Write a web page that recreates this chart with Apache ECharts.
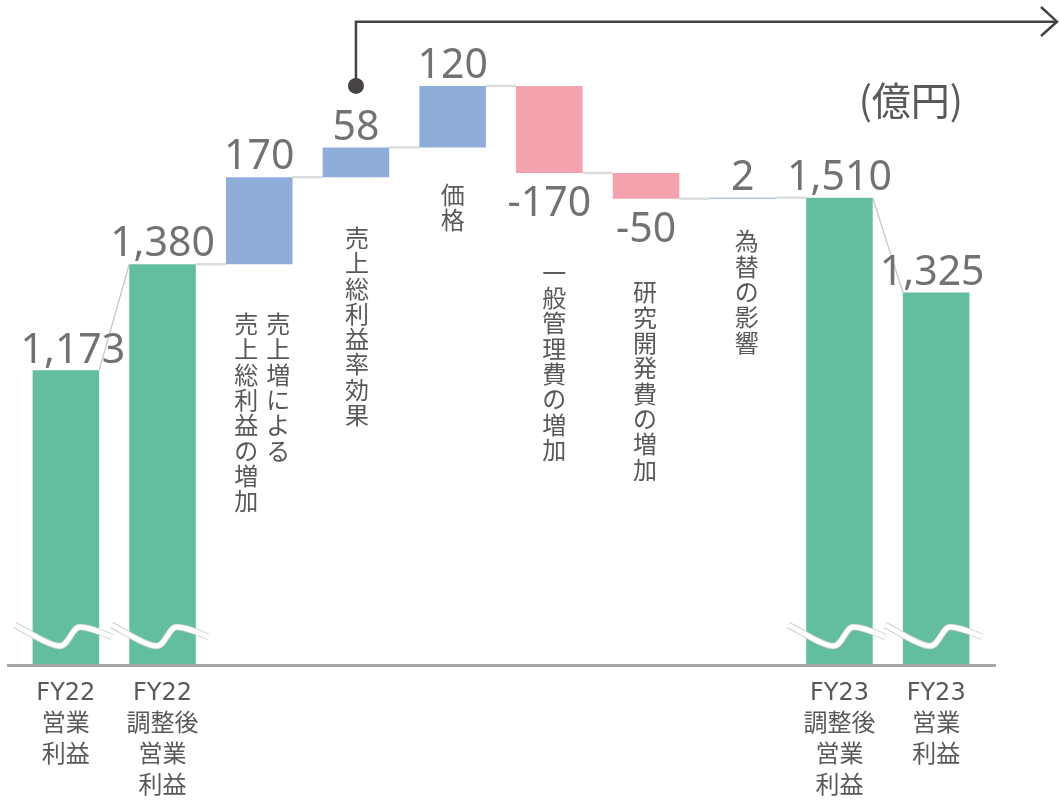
<!DOCTYPE html>
<html><head><meta charset="utf-8">
<script src="https://cdn.jsdelivr.net/npm/echarts@6/dist/echarts.min.js"></script>
<style>html,body{margin:0;padding:0;background:#fff}#c{width:1059px;height:802px}</style>
</head><body><div id="c"></div>
<script>
// ---------- data ----------
const categories = ['FY22営業利益','FY22調整後営業利益','売上増による売上総利益の増加','売上総利益率効果','価格','一般管理費の増加','研究開発費の増加','為替の影響','FY23調整後営業利益','FY23営業利益'];
const axisLabels = ['FY22\n営業\n利益','FY22\n調整後\n営業\n利益','','','','','','','FY23\n調整後\n営業\n利益','FY23\n営業\n利益'];
const kinds = ['total','total','delta','delta','delta','delta','delta','delta','total','total'];
const values = [1173,1380,170,58,120,-170,-50,2,1510,1325];
const notes = [[],[],['売上増による','売上総利益の増加'],['売上総利益率効果'],['価格'],['一般管理費の増加'],['研究開発費の増加'],['為替の影響'],[],[]];
const brokenBars = [0,1,8,9];
const unitLabel = '(億円)';
const axisMin = 600, axisMax = 1800;

// ---------- layout / style (not data) ----------
const BAR_RATIO = 0.688;
const noteLayout = {2:{dy:47,dx:[19,-13]},3:{dy:48,dx:[1]},4:{dy:35,dx:[0]},5:{dy:87,dx:[5]},6:{dy:81,dx:[-1]},7:{dy:30,dx:[4]}};
const labelShiftX = {0: 7, 9: -4};
const annotationIndex = 3;
const colorTotal = '#63BEA0', colorUp = '#8FADDA', colorDown = '#F4A3AE';
const valueColor = '#767171', textColor = '#595959';

// ---------- derived ----------
const n = values.length;
const lows = [], highs = [], starts = [], ends = [];
let run = 0;
for (let i = 0; i < n; i++) {
  if (kinds[i] === 'total') { starts[i] = ends[i] = values[i]; lows[i] = 0; highs[i] = values[i]; run = values[i]; }
  else { const s = run, e = run + values[i]; starts[i] = s; ends[i] = e; lows[i] = Math.min(s, e); highs[i] = Math.max(s, e); run = e; }
}
const baseData = values.map((v, i) => kinds[i] === 'total' ? 0 : lows[i]);
const barData = values.map((v, i) => {
  const isTotal = kinds[i] === 'total';
  const up = isTotal || v >= 0;
  return {
    value: isTotal ? v : Math.abs(v),
    itemStyle: { color: isTotal ? colorTotal : (v >= 0 ? colorUp : colorDown) },
    label: { position: up ? 'top' : 'bottom', distance: up ? -1 : 11, offset: [labelShiftX[i] || 0, 0] }
  };
});
const valueText = values.map((v, i) => kinds[i] === 'total' ? v.toLocaleString('en-US') : String(v));
const connectorData = [];
for (let i = 0; i < n - 1; i++) connectorData.push([i, ends[i], starts[i + 1]]);
const noteData = [];
notes.forEach((cols, i) => { if (cols.length) noteData.push([i, lows[i]]); });

const chart = echarts.init(document.getElementById('c'));
chart.setOption({
  animation: false,
  backgroundColor: '#ffffff',
  grid: { left: 17.5, right: 74.5, top: 49, bottom: 131 },
  xAxis: {
    type: 'category', data: categories,
    axisLine: { show: false }, axisTick: { show: false },
    axisLabel: {
      interval: 0, margin: 14, color: textColor, fontSize: 24, lineHeight: 31,
      fontFamily: '"DejaVu Sans","Noto Sans CJK JP"',
      formatter: (v, idx) => axisLabels[idx]
    }
  },
  yAxis: { type: 'value', min: axisMin, max: axisMax, show: false, splitLine: { show: false } },
  series: [
    {
      type: 'custom', name: 'connectors', z: 1, silent: true, clip: false,
      encode: { x: 0, y: [1, 2] },
      data: connectorData,
      renderItem: (p, api) => {
        const i = api.value(0);
        const bw = api.size([1, 0])[0] * BAR_RATIO;
        const a = api.coord([i, api.value(1)]);
        const b = api.coord([i + 1, api.value(2)]);
        const diag = Math.abs(api.value(1) - api.value(2)) > 0.5;
        return { type: 'line', shape: { x1: a[0] + bw / 2, y1: a[1], x2: b[0] - bw / 2, y2: b[1] },
          style: { stroke: diag ? '#C8C8C8' : '#DCDCDC', lineWidth: diag ? 1.3 : 2.5 } };
      }
    },
    {
      type: 'bar', name: 'base', stack: 'w', barWidth: (BAR_RATIO * 100) + '%', z: 2,
      itemStyle: { color: 'rgba(0,0,0,0)' }, emphasis: { disabled: true }, silent: true,
      data: baseData
    },
    {
      type: 'bar', name: 'value', stack: 'w', barWidth: (BAR_RATIO * 100) + '%', z: 3,
      data: barData,
      label: {
        show: true, color: valueColor, fontSize: 41, fontFamily: '"Noto Sans"',
        formatter: (p) => valueText[p.dataIndex]
      }
    },
    {
      type: 'custom', name: 'breaks', z: 6, silent: true, clip: false,
      encode: { x: 0, y: 1 },
      data: brokenBars.map(i => [i, axisMin]),
      renderItem: (p, api) => {
        const c = api.coord([api.value(0), api.value(1)]);
        const d = 'M-51,-39 C-32,-29 -16,-18 -6,-18 C3,-18 6,-37 14,-37 C24,-37 34,-32 46,-27';
        return { type: 'group', x: c[0], y: c[1], children: [
          { type: 'path', shape: { pathData: d }, style: { fill: 'none', stroke: '#CFCFCF', lineWidth: 6.5, lineCap: 'butt' } },
          { type: 'path', shape: { pathData: d }, style: { fill: 'none', stroke: '#FFFFFF', lineWidth: 4.8, lineCap: 'butt' } }
        ] };
      }
    },
    {
      type: 'custom', name: 'notes', z: 4, silent: true, clip: false,
      encode: { x: 0, y: 1 },
      data: noteData,
      renderItem: (p, api) => {
        const i = api.value(0);
        const c = api.coord([i, api.value(1)]);
        const lay = noteLayout[i];
        return { type: 'group', children: notes[i].map((t, k) => ({
          type: 'text', x: c[0] + lay.dx[k], y: c[1] + lay.dy,
          style: { text: t.split('').join('\n'), fill: textColor, fontSize: 24, lineHeight: 25.3,
            fontFamily: '"Noto Sans CJK JP"', align: 'center', verticalAlign: 'top' }
        })) };
      }
    }
  ]
});

const basePt = chart.convertToPixel({ gridIndex: 0 }, [0, axisMin]);
const peakPt = chart.convertToPixel({ gridIndex: 0 }, [annotationIndex, Math.max(...highs)]);
const dark = '#474344';
chart.setOption({
  graphic: [
    { type: 'line', z: 10, shape: { x1: 7, y1: basePt[1] + 1.5, x2: 996, y2: basePt[1] + 1.5 }, style: { stroke: '#A6A6A6', lineWidth: 3 } },
    { type: 'polyline', z: 10, shape: { points: [[peakPt[0], peakPt[1]], [peakPt[0], 21.7], [1057, 21.7]] }, style: { stroke: dark, lineWidth: 2.5, fill: 'none' } },
    { type: 'polyline', z: 10, shape: { points: [[1041, 7], [1057, 21.7], [1041, 36]] }, style: { stroke: dark, lineWidth: 2.5, fill: 'none' } },
    { type: 'circle', z: 10, shape: { cx: peakPt[0], cy: peakPt[1], r: 8 }, style: { fill: dark } },
    { type: 'text', z: 10, right: 96, top: 81, style: { text: unitLabel, fill: textColor, fontSize: 39, fontFamily: '"Noto Sans CJK JP"' } }
  ]
});
</script>
</body></html>
